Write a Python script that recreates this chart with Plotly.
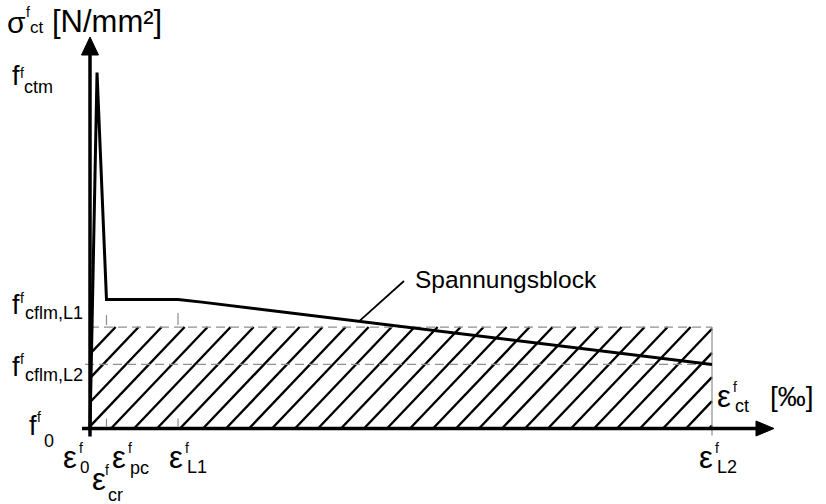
import plotly.graph_objects as go

# ---- data (schematic units: strain in permille, stress in N/mm²) ----
eps_names = ["0", "cr", "pc", "L1", "L2"]
eps_values = [0.0, 0.113, 0.265, 1.415, 10.0]

# stress-strain law of the steel fibre concrete
curve_eps = [0.0, 0.113, 0.265, 1.415, 1.80, 10.0]
curve_sigma = [0.0, 4.00, 1.45, 1.45, 1.42, 0.72]

# characteristic stress levels
f_ctm = 4.00
f_cflm_L1 = 1.45
f_cflm_L2 = 0.72
block_sigma = 1.14          # height of the rectangular stress block

# ---- canvas / scale ----
W, H = 826, 504
X0_PX, Y0_PX = 90.0, 428.5  # origin position on the canvas
PX_X, PX_Y = 62.2, 89.0     # pixels per unit
FONT = "Liberation Sans, Arial, sans-serif"
GREY = "#8f8f8f"

def to_px(x, y):
    return X0_PX + x * PX_X, Y0_PX - y * PX_Y

def to_data(px, py):
    return (px - X0_PX) / PX_X, (Y0_PX - py) / PX_Y

fig = go.Figure()

eps_pc = eps_values[2]
eps_L1 = eps_values[3]
eps_L2 = eps_values[4]

# ---- hatching of the stress block ----
hx, hy = [], []
left, bottom = to_px(0, 0)
right, top = to_px(eps_L2, block_sigma)
height = bottom - top
spacing, slope, phase = 23.0, 1.05, 21.0
k = -int(height / slope / spacing) - 2
while True:
    xb = left + phase + k * spacing
    if xb > right:
        break
    h0 = max(0.0, (left - xb) * slope)
    h1 = min(height, (right - xb) * slope)
    if h1 > h0:
        for h in (h0, h1):
            dx, dy = to_data(xb + h / slope, bottom - h)
            hx.append(dx)
            hy.append(dy)
        hx.append(None)
        hy.append(None)
    k += 1
fig.add_trace(go.Scatter(x=hx, y=hy, mode="lines",
                         line=dict(color="black", width=2.4), hoverinfo="skip"))

# ---- dashed reference lines ----
tick_len = 5 / PX_X
fig.add_trace(go.Scatter(x=[0, eps_L2], y=[block_sigma, block_sigma], mode="lines",
                         line=dict(color=GREY, width=1.2, dash="9px,5px"), hoverinfo="skip"))
fig.add_trace(go.Scatter(x=[-tick_len, eps_L2], y=[f_cflm_L2, f_cflm_L2], mode="lines",
                         line=dict(color=GREY, width=1.2, dash="9px,5px"), hoverinfo="skip"))
fig.add_trace(go.Scatter(x=[eps_L2, eps_L2], y=[block_sigma, -7 / PX_Y], mode="lines",
                         line=dict(color=GREY, width=1.2), hoverinfo="skip"))
# short marks at eps_pc and eps_L1
mx, my = [], []
for e, top_gap in ((eps_pc, 12), (eps_L1, 14)):
    mx += [e, e, None, e, e, None]
    my += [block_sigma + top_gap / PX_Y, block_sigma + 2 / PX_Y, None,
           10 / PX_Y, 2 / PX_Y, None]
fig.add_trace(go.Scatter(x=mx, y=my, mode="lines",
                         line=dict(color=GREY, width=1.2), hoverinfo="skip"))

# ---- stress-strain curve ----
fig.add_trace(go.Scatter(x=curve_eps, y=curve_sigma, mode="lines",
                         line=dict(color="black", width=3), hoverinfo="skip"))

# ---- axes with arrow heads ----
y_tip = to_data(0, 37)[1]
y_base = to_data(0, 55)[1]
x_tip = to_data(774, 0)[0]
x_base = to_data(756, 0)[0]
shapes = [
    dict(type="line", x0=0, x1=0, y0=-8 / PX_Y, y1=y_base,
         line=dict(color="black", width=3.5)),
    dict(type="line", x0=-8 / PX_X, x1=x_base, y0=0, y1=0,
         line=dict(color="black", width=3.5)),
    dict(type="path", fillcolor="black", line=dict(color="black", width=1),
         path=f"M {-8.5 / PX_X} {y_base} L 0 {y_tip} L {8.5 / PX_X} {y_base} Z"),
    dict(type="path", fillcolor="black", line=dict(color="black", width=1),
         path=f"M {x_base} {-7.5 / PX_Y} L {x_tip} 0 L {x_base} {7.5 / PX_Y} Z"),
]

# leader line of the "Spannungsblock" label, ending on the curve
lead_x0, lead_y0 = to_data(404, 281)
lead_x1 = to_data(359, 0)[0]
t = (lead_x1 - curve_eps[4]) / (curve_eps[5] - curve_eps[4])
lead_y1 = curve_sigma[4] + t * (curve_sigma[5] - curve_sigma[4])
shapes.append(dict(type="line", x0=lead_x0, y0=lead_y0, x1=lead_x1, y1=lead_y1,
                   line=dict(color="black", width=1.8)))

# ---- text ----
def txt(s, left_px, base_px, size):
    fig.add_annotation(xref="paper", yref="paper", x=left_px / W,
                       y=1 - (base_px - 0.3465 * size) / H,
                       xanchor="left", yanchor="middle", text=s, showarrow=False,
                       borderpad=0, font=dict(size=size, family=FONT, color="black"))

def sym(base, sup, sub, left, baseline, bsize, sup_dx, sup_base, sub_dx, sub_base,
        sup_size=14, sub_size=18):
    txt(base, left, baseline, bsize)
    txt(sup, left + sup_dx, sup_base, sup_size)
    txt(sub, left + sub_dx, sub_base, sub_size)

# vertical axis title
sym("σ", "f", "ct", 6, 33, 30, 19, 17, 23, 33, sub_size=17)
txt("[N/mm²]", 51, 32, 31)

# stress levels
sym("f", "f", "ctm", 11, 85, 27, 8, 78, 12, 93)
sym("f", "f", "cflm,L1", 11, 314, 27, 8, 303, 13, 319)
sym("f", "f", "cflm,L2", 11, 376, 27, 8, 364, 13, 381)
sym("f", "f", "0", 28, 435, 27, 8, 422, 15, 447)

# strain points: left edge, baseline, sup offset, sub offset, sub baseline, sub size
strain_pos = {
    "0": (62, 468, 16, 17, 473, 17),
    "cr": (91, 490, 13, 16, 501, 18),
    "pc": (111, 468, 16, 18, 474, 18),
    "L1": (168, 468, 16, 18, 473, 18),
    "L2": (698, 468, 16, 18, 473, 18),
}
for name in eps_names:
    lx, bl, sup_dx, sub_dx, sb, ss = strain_pos[name]
    sym("ε", "f", name, lx, bl, 31, sup_dx, bl - 15, sub_dx, sb, sub_size=ss)

# horizontal axis title
sym("ε", "f", "ct", 716, 407, 31, 16, 392, 18, 412)
txt("[‰]", 769, 406, 28)

txt("Spannungsblock", 414, 288, 24.5)

fig.update_layout(
    width=W, height=H,
    margin=dict(l=0, r=0, t=0, b=0),
    paper_bgcolor="white", plot_bgcolor="white",
    showlegend=False, shapes=shapes,
    xaxis=dict(range=[-X0_PX / PX_X, (W - X0_PX) / PX_X], visible=False, fixedrange=True),
    yaxis=dict(range=[-(H - Y0_PX) / PX_Y, Y0_PX / PX_Y], visible=False, fixedrange=True),
)

fig.write_html("out.html")
